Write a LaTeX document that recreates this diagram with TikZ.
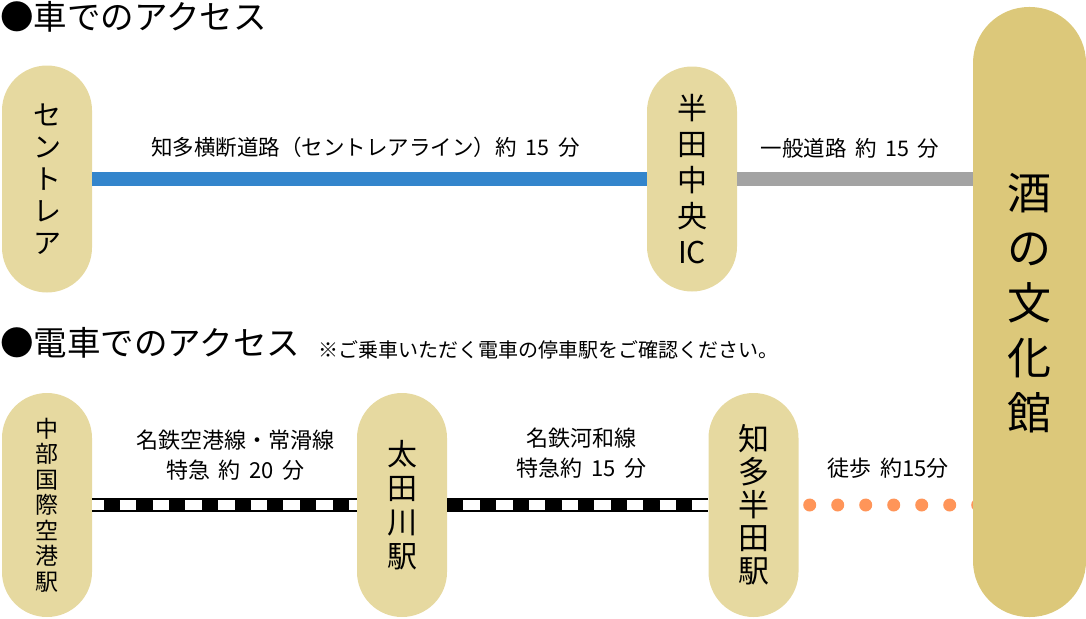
\documentclass[tikz,border=0pt]{standalone}
\usepackage{fontspec}
\setmainfont{Noto Sans CJK JP}
\usepackage{tikz}
\usetikzlibrary{backgrounds}

\definecolor{pillc}{HTML}{E6D9A0}
\definecolor{museumc}{HTML}{DCC87A}
\definecolor{roadblue}{HTML}{3385CC}
\definecolor{roadgrey}{HTML}{A3A3A3}
\definecolor{walkorange}{HTML}{FF9559}

\newcommand{\gap}{\hspace{0.4em}}

\begin{document}
\begin{tikzpicture}[x=1pt, y=-1pt,
    pill/.style={rectangle, fill=pillc, rounded corners=45pt, minimum width=90pt,
        minimum height=224pt, inner sep=0pt, align=center},
    rail/.style={line width=13.5pt, black},
    railgap/.style={line width=9.5pt, white, dash pattern=on 16.5pt off 16.2pt},
    lbl/.style={text=black, font=\fontsize{21.5}{30}\selectfont, align=center, inner sep=0pt}]

            \useasboundingbox (0,0) rectangle (1086,618);

            % headings
            \node (cartitle) [anchor=west, inner sep=0pt] at (0,17)
            {\fontsize{33.5}{34}\selectfont ●車でのアクセス};
            \node (traintitle) [anchor=west, inner sep=0pt] at (0,343)
            {\fontsize{33.5}{34}\selectfont ●電車でのアクセス};
            \node (note) [anchor=west, inner sep=0pt] at (318,350)
            {\fontsize{20}{20}\selectfont ※ご乗車いただく電車の停車駅をご確認ください。};

            % stops
            \node (centrair) [pill, minimum height=227pt, font=\fontsize{28}{32}\selectfont]
            at (47,179) {セ\\ン\\ト\\レ\\ア};
            \node (ic) [pill, minimum height=225pt, font=\fontsize{30}{36}\selectfont]
            at (692,179) {半\\田\\中\\央\\IC};
            \node (museum) [pill, fill=museumc, rounded corners=56pt, minimum width=113pt,
            minimum height=610pt, text depth=22pt, font=\fontsize{44}{55}\selectfont]
            at (1029.5,312) {酒\\の\\文\\化\\館};
            \node (airport) [pill, font=\fontsize{23}{25.5}\selectfont]
            at (47,505) {中\\部\\国\\際\\空\\港\\駅};
            \node (ota) [pill, font=\fontsize{30}{34}\selectfont]
            at (402,505) {太\\田\\川\\駅};
            \node (chita) [pill, font=\fontsize{31}{33}\selectfont]
            at (753.5,505) {知\\多\\半\\田\\駅};

            % by car
            \draw [line width=14pt, roadblue]
            (centrair.east) -- (ic.west) node [midway, xshift=-4pt, yshift=32pt, lbl]
            {知多横断道路（セントレアライン）約\gap 15\gap 分};

            \draw [line width=14pt, roadgrey]
            (ic.east) -- (ic.east -| museum.west) node [midway, xshift=-5pt, yshift=31pt, lbl]
            {一般道路\gap 約\gap 15\gap 分};

            % by train
            \draw [rail] (airport.east) -- (ota.west) node [midway, xshift=11pt, yshift=50pt, lbl, font=\fontsize{22}{30}\selectfont]
            {名鉄空港線・常滑線\\特急\gap 約\gap 20\gap 分};
            \draw [railgap, dash phase=5pt] (airport.east) -- (ota.west);

            \draw [rail] (ota.east) -- (chita.west) node [midway, xshift=4pt, yshift=52pt, lbl, font=\fontsize{22}{30}\selectfont]
            {名鉄河和線\\特急約\gap 15\gap 分};
            \draw [railgap, dash phase=16.5pt] (ota.east) -- (chita.west);

            \node (walk) [lbl, font=\fontsize{22}{30}\selectfont] at (888,468) {徒歩\gap 約15分};
            \begin{scope}[on background layer]
            \draw [walkorange, line width=13pt, line cap=round, dash pattern=on 0pt off 28pt, shorten <=11pt]
            (chita.east) -- (chita.east -| museum.center);
            \end{scope}

            \end{tikzpicture}
\end{document}
